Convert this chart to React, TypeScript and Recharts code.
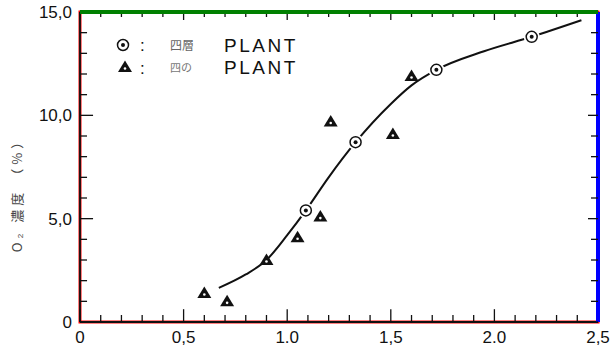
import React from "react";
import { ComposedChart, Line, Scatter, XAxis, YAxis, ReferenceLine, ReferenceArea } from "recharts";

// 四層 PLANT (circles)
const circleX = [1.09, 1.33, 1.72, 2.18];
const circleY = [5.4, 8.7, 12.2, 13.8];

// 四の PLANT (triangles)
const triX = [0.6, 0.71, 0.9, 1.05, 1.16, 1.21, 1.51, 1.6];
const triY = [1.4, 1.0, 3.0, 4.1, 5.1, 9.7, 9.1, 11.9];

// fitted curve
const curveX = [0.67, 0.8, 0.9, 1.0, 1.09, 1.2, 1.33, 1.5, 1.6, 1.72, 1.95, 2.18, 2.42];
const curveY = [1.65, 2.3, 3.0, 4.2, 5.4, 7.0, 8.7, 10.55, 11.45, 12.2, 13.1, 13.8, 14.6];

const xTicks = [
  0, 0.1, 0.2, 0.3, 0.4, 0.5, 0.6, 0.7, 0.8, 0.9, 1.0, 1.1, 1.2, 1.3, 1.4, 1.5,
  1.6, 1.7, 1.8, 1.9, 2.0, 2.1, 2.2, 2.3, 2.4, 2.5,
];
const xLabels: Record<string, string> = {
  "0": "0",
  "0.5": "0,5",
  "1": "1.0",
  "1.5": "1,5",
  "2": "2.0",
  "2.5": "2,5",
};
const yTicks = [0, 1, 2, 3, 4, 5, 6, 7, 8, 9, 10, 11, 12, 13, 14, 15];
const yLabels: Record<string, string> = {
  "0": "0",
  "5": "5,0",
  "10": "10,0",
  "15": "15,0",
};

const circles = circleX.map((x, i) => ({ x, y: circleY[i] }));
const triangles = triX.map((x, i) => ({ x, y: triY[i] }));
const curve = curveX.map((x, i) => ({ x, y: curveY[i] }));

const W = 615;
const H = 355;
const TOP = 12;
const RIGHT = 598;
const BOTTOM = 322;
const LEFT = 80;
const INK = "#111";
const FONT = "'Liberation Sans', Arial, sans-serif";
const CJK = "'Noto Sans CJK JP', sans-serif";

const XTick = (props: any) => {
  const { x, y, payload } = props;
  const label = xLabels[String(payload.value)];
  const last = payload.value === 2.5;
  return (
    <g>
      <line x1={x} x2={x} y1={TOP} y2={TOP + (label ? 8 : 5)} stroke={INK} strokeWidth={1.3} />
      {last && <line x1={x} x2={x} y1={TOP} y2={BOTTOM} stroke="blue" strokeWidth={4} />}
      {label && (
        <text x={x} y={y + 21} textAnchor="middle" fontSize={17} fontFamily={FONT} fill={INK}>
          {label}
        </text>
      )}
    </g>
  );
};

const YTick = (props: any) => {
  const { x, y, payload } = props;
  const label = yLabels[String(payload.value)];
  const last = payload.value === 15;
  return (
    <g>
      <line x1={RIGHT} x2={RIGHT - (label ? 10 : 7)} y1={y} y2={y} stroke={INK} strokeWidth={1.3} />
      {last && <line x1={LEFT} x2={RIGHT} y1={y} y2={y} stroke="green" strokeWidth={4} />}
      {label && (
        <text x={x - 8} y={y} dy="0.36em" textAnchor="end" fontSize={17} fontFamily={FONT} fill={INK}>
          {label}
        </text>
      )}
    </g>
  );
};

const CircleMark = (props: any) => {
  const { cx, cy } = props;
  return (
    <g>
      <circle cx={cx} cy={cy} r={8} fill="#fff" />
      <circle cx={cx} cy={cy} r={5.5} fill="#fff" stroke={INK} strokeWidth={1.5} />
      <circle cx={cx} cy={cy} r={2} fill={INK} />
    </g>
  );
};

const TriMark = (props: any) => {
  const { cx, cy } = props;
  return (
    <g>
      <polygon
        points={`${cx},${cy - 6.5} ${cx - 7},${cy + 5} ${cx + 7},${cy + 5}`}
        fill={INK}
      />
      <circle cx={cx} cy={cy + 1.5} r={1.3} fill="#fff" />
    </g>
  );
};

export default function App() {
  return (
    <div style={{ position: "absolute", left: 0, top: 0, width: W, height: H, background: "#fff" }}>
      <ComposedChart width={W} height={H} margin={{ top: TOP, right: W - RIGHT, bottom: 0, left: 0 }}>
        <XAxis
          type="number"
          dataKey="x"
          domain={[0, 2.5]}
          ticks={xTicks}
          interval={0}
          height={H - BOTTOM}
          axisLine={false}
          tickLine={false}
          tickSize={0}
          tickMargin={0}
          tick={XTick}
        />
        <YAxis
          type="number"
          dataKey="y"
          domain={[0, 15]}
          ticks={yTicks}
          interval={0}
          width={LEFT}
          axisLine={false}
          tickLine={false}
          tickSize={0}
          tickMargin={0}
          tick={YTick}
        />

        <ReferenceArea
          x1={0}
          x2={2.5}
          y1={0}
          y2={15}
          ifOverflow="visible"
          fill="#fff"
          fillOpacity={0}
          stroke="red"
          strokeWidth={3}
        />

        {xTicks.map((v) => (
          <ReferenceLine
            key={`xb${v}`}
            ifOverflow="visible"
            segment={[{ x: v, y: 0 }, { x: v, y: String(v) in xLabels ? 0.62 : 0.34 }]}
            stroke={INK}
            strokeWidth={1.3}
          />
        ))}
        {yTicks.map((v) => (
          <ReferenceLine
            key={`yl${v}`}
            ifOverflow="visible"
            segment={[{ x: 0, y: v }, { x: String(v) in yLabels ? 0.063 : 0.034, y: v }]}
            stroke={INK}
            strokeWidth={1.3}
          />
        ))}

        <ReferenceLine ifOverflow="visible" x={0} stroke={INK} strokeWidth={1.8} />
        <ReferenceLine ifOverflow="visible" y={0} stroke={INK} strokeWidth={1.8} />

        <Line
          data={curve}
          dataKey="y"
          type="monotone"
          stroke={INK}
          strokeWidth={2}
          dot={false}
          activeDot={false}
          isAnimationActive={false}
        />
        <Scatter data={circles} dataKey="y" shape={CircleMark} isAnimationActive={false} />
        <Scatter data={triangles} dataKey="y" shape={TriMark} isAnimationActive={false} />
      </ComposedChart>

      <svg width={W} height={H} style={{ position: "absolute", left: 0, top: 0, pointerEvents: "none" }}>
        <text
          transform="translate(22,192) rotate(-90)"
          textAnchor="middle"
          fontSize={13}
          letterSpacing={4}
          fontFamily={CJK}
          fill="#444"
        >
          O₂ 濃度 （%）
        </text>

        <CircleMark cx={123} cy={45} />
        <text x={140} y={51} fontSize={17} fontFamily={FONT} fill={INK}>:</text>
        <text x={170} y={50} fontSize={12} fontFamily={CJK} fill="#666">四層</text>
        <text x={224} y={52} fontSize={19} letterSpacing={2.5} fontFamily={FONT} fill={INK}>PLANT</text>

        <TriMark cx={125} cy={67} />
        <text x={140} y={74} fontSize={17} fontFamily={FONT} fill={INK}>:</text>
        <text x={170} y={72} fontSize={11} fontFamily={CJK} fill="#777">四の</text>
        <text x={224} y={74} fontSize={19} letterSpacing={2.5} fontFamily={FONT} fill={INK}>PLANT</text>
      </svg>
    </div>
  );
}
